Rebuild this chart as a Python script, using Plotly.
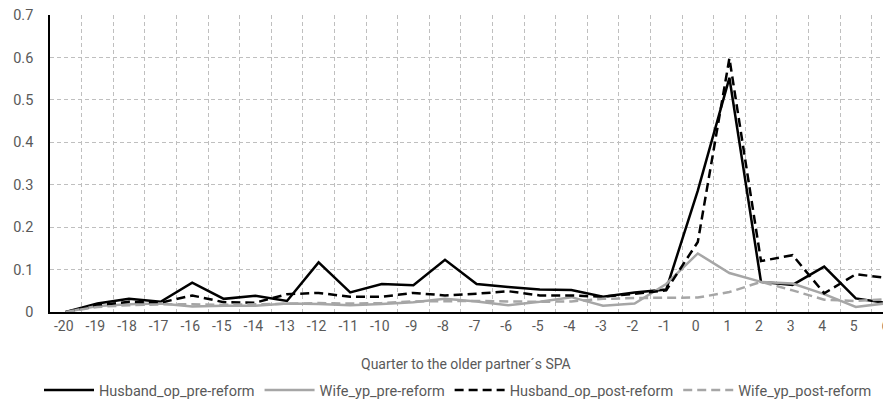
import plotly.graph_objects as go

quarters = list(range(-20, 7))
quarter_labels = [str(q) for q in quarters]

husband_op_pre = [0, 0.020, 0.031, 0.024, 0.069, 0.031, 0.038, 0.026, 0.117, 0.046,
                  0.066, 0.063, 0.123, 0.066, 0.059, 0.053, 0.052, 0.036, 0.046, 0.053,
                  0.286, 0.552, 0.071, 0.064, 0.107, 0.032, 0.021]
wife_yp_pre = [0, 0.014, 0.018, 0.020, 0.013, 0.015, 0.015, 0.020, 0.019, 0.016,
               0.019, 0.023, 0.031, 0.025, 0.016, 0.024, 0.035, 0.015, 0.020, 0.066,
               0.138, 0.092, 0.071, 0.067, 0.042, 0.012, 0.021]
husband_op_post = [0, 0.016, 0.024, 0.022, 0.039, 0.023, 0.022, 0.042, 0.045, 0.036,
                   0.036, 0.045, 0.039, 0.043, 0.049, 0.039, 0.039, 0.036, 0.043, 0.051,
                   0.165, 0.598, 0.120, 0.134, 0.044, 0.089, 0.080]
wife_yp_post = [0, 0.012, 0.016, 0.018, 0.018, 0.017, 0.018, 0.020, 0.021, 0.020,
                0.021, 0.025, 0.026, 0.026, 0.025, 0.024, 0.025, 0.031, 0.033, 0.033,
                0.034, 0.047, 0.071, 0.051, 0.029, 0.026, 0.030]

y_ticks = [0, 0.1, 0.2, 0.3, 0.4, 0.5, 0.6, 0.7]
y_labels = ["0", "0.1", "0.2", "0.3", "0.4", "0.5", "0.6", "0.7"]

FONT = "Roboto, 'Open Sans', sans-serif"
TXT = "#595959"
BLACK = "#000000"
GREY = "#a6a6a6"
GRID = "#bfbfbf"

# page body has an 8px margin: figure is offset to compensate; the plot area
# runs past the right edge of the window, as in the reference
W, H = 891, 392
L, T, B = 42, 7, 88.3
PLOT_H = H - T - B
UNIT = 31.6
X_SPAN = (W - L) / UNIT

fig = go.Figure()
series = [
    ("Husband_op_pre-reform", husband_op_pre, BLACK, "solid"),
    ("Wife_yp_pre-reform", wife_yp_pre, GREY, "solid"),
    ("Husband_op_post-reform", husband_op_post, BLACK, "9px,5px"),
    ("Wife_yp_post-reform", wife_yp_post, GREY, "9px,5px"),
]
for name, vals, col, dash in series:
    fig.add_trace(go.Scatter(x=quarters, y=vals, name=name, mode="lines",
                             line=dict(color=col, width=2.5, dash=dash)))

fig.update_layout(
    width=W, height=H,
    margin=dict(l=L, r=0, t=T, b=B, autoexpand=False),
    paper_bgcolor="white", plot_bgcolor="white",
    font=dict(family=FONT, size=13, color=TXT),
    showlegend=True,
    legend=dict(orientation="h", xref="container", yref="container",
                x=450 / W, y=1 - 382 / H, xanchor="center", yanchor="middle",
                font=dict(size=14.5, color=TXT), tracegroupgap=0,
                itemwidth=50),
    annotations=[dict(text="Quarter to the older partner´s SPA", xref="paper",
                      yref="paper", x=(458 - L) / (W - L), y=-(356 - (T + PLOT_H)) / PLOT_H,
                      xanchor="center", yanchor="middle", showarrow=False,
                      font=dict(size=14, color=TXT))],
)
boundaries = [q - 0.5 for q in quarters]
fig.update_xaxes(range=[quarters[0] - 0.5, quarters[0] - 0.5 + X_SPAN],
                 tickvals=quarters, ticktext=quarter_labels, showgrid=False,
                 minor=dict(tickvals=boundaries, showgrid=True, gridcolor=GRID,
                            griddash="4px,3px", gridwidth=1, ticks=""),
                 showline=True, linecolor=BLACK, linewidth=1.5, ticks="",
                 tickfont=dict(size=14, color=TXT), zeroline=False,
                 ticklabeloverflow="allow", ticklabelshift=-2)
fig.update_yaxes(range=[0, 0.7], tickvals=y_ticks, ticktext=y_labels,
                 showgrid=True, gridcolor=GRID, griddash="4px,3px", gridwidth=1,
                 showline=True, linecolor=BLACK, linewidth=1.5, ticks="",
                 tickfont=dict(size=14.5, color=TXT), zeroline=False,
                 ticklabelstandoff=12, ticklabeloverflow="allow")

fig.write_html("out.html")
